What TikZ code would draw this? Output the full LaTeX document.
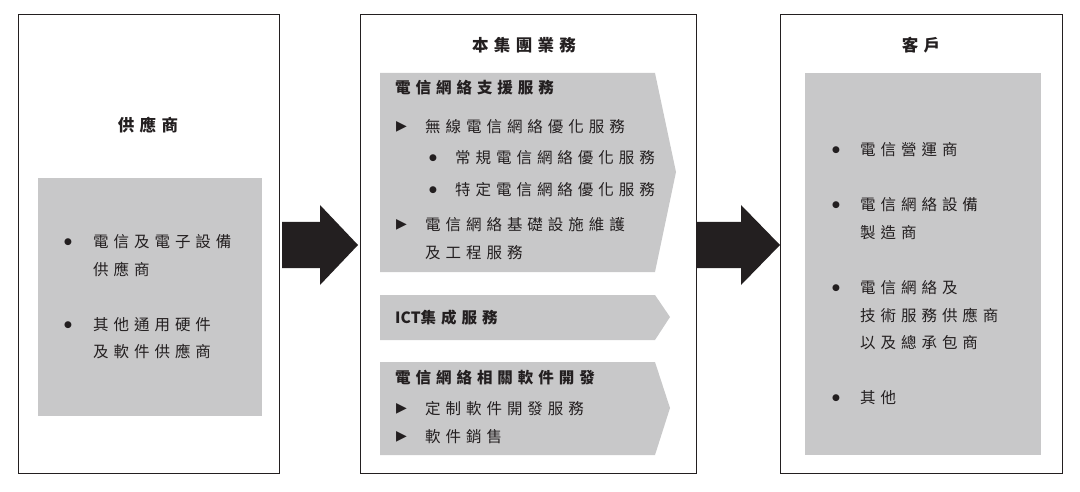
\documentclass[tikz,border=0pt]{standalone}
\usepackage{fontspec}
\setmainfont{Noto Sans CJK TC}[LetterSpace=32]
\newfontfamily\plainfont{Noto Sans CJK TC}
\newfontfamily\symfont{DejaVu Sans}
\usetikzlibrary{positioning}
\definecolor{panelgray}{HTML}{C8C8C9}
\definecolor{inkblack}{HTML}{231F20}
\tikzset{
  panel/.style={draw=inkblack, line width=0.8pt},
  shade/.style={fill=panelgray},
  txt/.style={anchor=west, inner sep=0pt, text=inkblack, font=\fontsize{15.5}{17}\selectfont},
  head/.style={txt, font=\fontsize{15.5}{17}\selectfont\bfseries},
  title/.style={inner sep=0pt, text=inkblack, font=\fontsize{16.5}{18}\selectfont\bfseries},
  bigarrow/.style={fill=inkblack}
}
\newcommand{\tri}{{\symfont\fontsize{14}{14}\selectfont ▶}}
\newcommand{\dotb}{{\symfont\fontsize{9}{10}\selectfont ●}}
\begin{document}
\begin{tikzpicture}[x=1pt,y=-1pt]
  \useasboundingbox (0,0) rectangle (1080,492);

  % Panels
  \draw[panel] (18,14) rectangle (279,473);
  \draw[panel] (360,14) rectangle (696,473);
  \draw[panel] (780,14) rectangle (1062,473);

  % Left panel
  \node[title] (supT) at (148,125) {供應商};
  \fill[shade] (38,178) rectangle (262,416);
  \node[txt] (s1b) at (64,242) {\dotb};
  \node[txt] (s1a) at (93,242) {電信及電子設備};
  \node[txt] (s1c) at (93,269) {供應商};
  \node[txt] (s2b) at (64,325) {\dotb};
  \node[txt] (s2a) at (93,325) {其他通用硬件};
  \node[txt] (s2c) at (93,352) {及軟件供應商};

  % Arrows
  \fill[bigarrow] (282,222) -- (320,222) -- (320,205) -- (358,245) -- (320,285) -- (320,268) -- (282,268) -- cycle;
  \fill[bigarrow] (697,222) -- (741,222) -- (741,205) -- (780,245) -- (741,285) -- (741,268) -- (697,268) -- cycle;

  % Middle panel
  \node[title] (grpT) at (524,45) {本集團業務};
  \fill[shade] (380,73) -- (655,73) -- (676,172) -- (655,272) -- (380,272) -- cycle;
  \fill[shade] (380,295) -- (655,295) -- (670,317) -- (655,340) -- (380,340) -- cycle;
  \fill[shade] (380,362) -- (655,362) -- (670,408) -- (655,455) -- (380,455) -- cycle;

  \node[head] (m1) at (395,88) {電信網絡支援服務};
  \node[txt] (m1t) at (396,127) {\tri};
  \node[txt] (m1a) at (425,127) {無線電信網絡優化服務};
  \node[txt] (m1b) at (429,158) {\dotb};
  \node[txt] (m1c) at (455,158) {常規電信網絡優化服務};
  \node[txt] (m1d) at (429,190) {\dotb};
  \node[txt] (m1e) at (455,190) {特定電信網絡優化服務};
  \node[txt] (m1u) at (396,225) {\tri};
  \node[txt] (m1f) at (425,225) {電信網絡基礎設施維護};
  \node[txt] (m1g) at (425,253) {及工程服務};

  \node[head] (m2) at (395,318) {{\plainfont\bfseries ICT}集成服務};

  \node[head] (m3) at (395,378) {電信網絡相關軟件開發};
  \node[txt] (m3t) at (396,409) {\tri};
  \node[txt] (m3a) at (425,409) {定制軟件開發服務};
  \node[txt] (m3u) at (396,437) {\tri};
  \node[txt] (m3b) at (425,437) {軟件銷售};

  % Right panel
  \node[title] (cusT) at (921,45) {客戶};
  \fill[shade] (805,73) rectangle (1041,455);
  \node[txt] (c1b) at (832,150) {\dotb};
  \node[txt] (c1) at (860,150) {電信營運商};
  \node[txt] (c2b) at (832,205) {\dotb};
  \node[txt] (c2) at (860,205) {電信網絡設備};
  \node[txt] (c2a) at (860,233) {製造商};
  \node[txt] (c3b) at (832,288) {\dotb};
  \node[txt] (c3) at (860,288) {電信網絡及};
  \node[txt] (c3a) at (860,315) {技術服務供應商};
  \node[txt] (c3c) at (860,343) {以及總承包商};
  \node[txt] (c4b) at (832,398) {\dotb};
  \node[txt] (c4) at (860,398) {其他};
\end{tikzpicture}
\end{document}
